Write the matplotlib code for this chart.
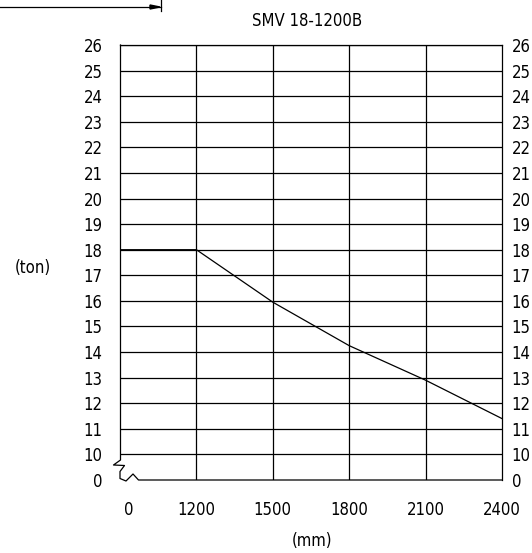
import matplotlib
matplotlib.use("Agg")
import matplotlib.pyplot as plt
from matplotlib.lines import Line2D
from matplotlib.transforms import ScaledTranslation
import numpy as np

plt.rcParams['font.family'] = ['DejaVu Sans']
plt.rcParams['font.stretch'] = 'condensed'

# ---- data ----
title = "SMV 18-1200B"
distance_labels = ["0", "1200", "1500", "1800", "2100", "2400"]
capacity_ton = [18.0, 18.0, 15.95, 14.25, 12.9, 11.4]
y_tick_values = list(range(10, 27))
y_tick_labels = [str(v) for v in y_tick_values]
x_unit = "(mm)"
y_unit = "(ton)"

W, H = 532, 553
fig = plt.figure(figsize=(W / 100, H / 100), dpi=100)
left, right, top, bottom = 120, 502, 45, 480
ax = fig.add_axes([left / W, 1 - bottom / H, (right - left) / W, (bottom - top) / H])

xpos = np.arange(len(distance_labels))
ax.set_xlim(0, len(distance_labels) - 1)
ymin = y_tick_values[0] - 1  # position of the broken-axis "0"
ax.set_ylim(ymin, y_tick_values[-1])

lc = 'black'
lw = 0.9
fs = 12
# grid
for v in y_tick_values:
    ax.plot([xpos[0], xpos[-1]], [v, v], color=lc, lw=lw)
for xp in xpos[1:-1]:
    ax.plot([xp, xp], [ymin, y_tick_values[-1]], color=lc, lw=lw)

# capacity curve
ax.plot(xpos, capacity_ton, color=lc, lw=0.9)

# spines
for s in ['left', 'bottom']:
    ax.spines[s].set_visible(False)
for s in ['top', 'right']:
    ax.spines[s].set_linewidth(lw)

# broken axis symbol (pixel coordinates -> data)
def px2data(px, py):
    xd = (px - left) / (right - left) * (len(distance_labels) - 1)
    yd = y_tick_values[-1] - (py - top) / (bottom - top) * (y_tick_values[-1] - ymin)
    return xd, yd

brk_px = [(120.5, 45), (120.5, 460), (113.5, 465), (124.5, 465.5), (120, 471.5),
          (120, 478.5), (126, 481), (133, 474), (138.5, 480), (502, 480)]
bx, by = zip(*[px2data(a, b) for a, b in brk_px])
ax.add_line(Line2D(bx, by, color=lc, lw=lw, clip_on=False))

# ticks
ax.set_xticks(xpos)
ax.set_xticklabels(distance_labels)
ax.set_yticks([ymin] + y_tick_values)
ax.set_yticklabels(["0"] + y_tick_labels)
ax.tick_params(axis='both', length=0, labelsize=fs)
ax.tick_params(axis='x', pad=15)
ax.tick_params(axis='y', pad=12.5)

ax2 = ax.twinx()
ax2.set_ylim(ax.get_ylim())
ax2.set_yticks([ymin] + y_tick_values)
ax2.set_yticklabels(["0"] + y_tick_labels)
ax2.tick_params(axis='y', length=0, labelsize=fs, pad=7)
for s in ax2.spines.values():
    s.set_visible(False)

# shift the "0" x label slightly to the right
lbl0 = ax.get_xticklabels()[0]
lbl0.set_transform(lbl0.get_transform() + ScaledTranslation(9 / 100, 0, fig.dpi_scale_trans))

fig.text(307 / W, 1 - 21 / H, title, ha='center', va='center', fontsize=fs)
fig.text(33 / W, 1 - 268 / H, y_unit, ha='center', va='center', fontsize=fs)
fig.text(312 / W, 1 - 541 / H, x_unit, ha='center', va='center', fontsize=fs)

# top-left dimension arrow
fig.add_artist(Line2D([0, 161 / W], [1 - 7 / H, 1 - 7 / H], color=lc, lw=0.9))
fig.add_artist(Line2D([161 / W, 161 / W], [1 - 0 / H, 1 - 11 / H], color=lc, lw=0.9))
fig.patches.append(plt.Polygon([[150 / W, 1 - 5 / H], [160 / W, 1 - 7 / H], [150 / W, 1 - 9 / H]],
                               closed=True, color=lc, transform=fig.transFigure, figure=fig))

fig.savefig("out.png", dpi=100)
